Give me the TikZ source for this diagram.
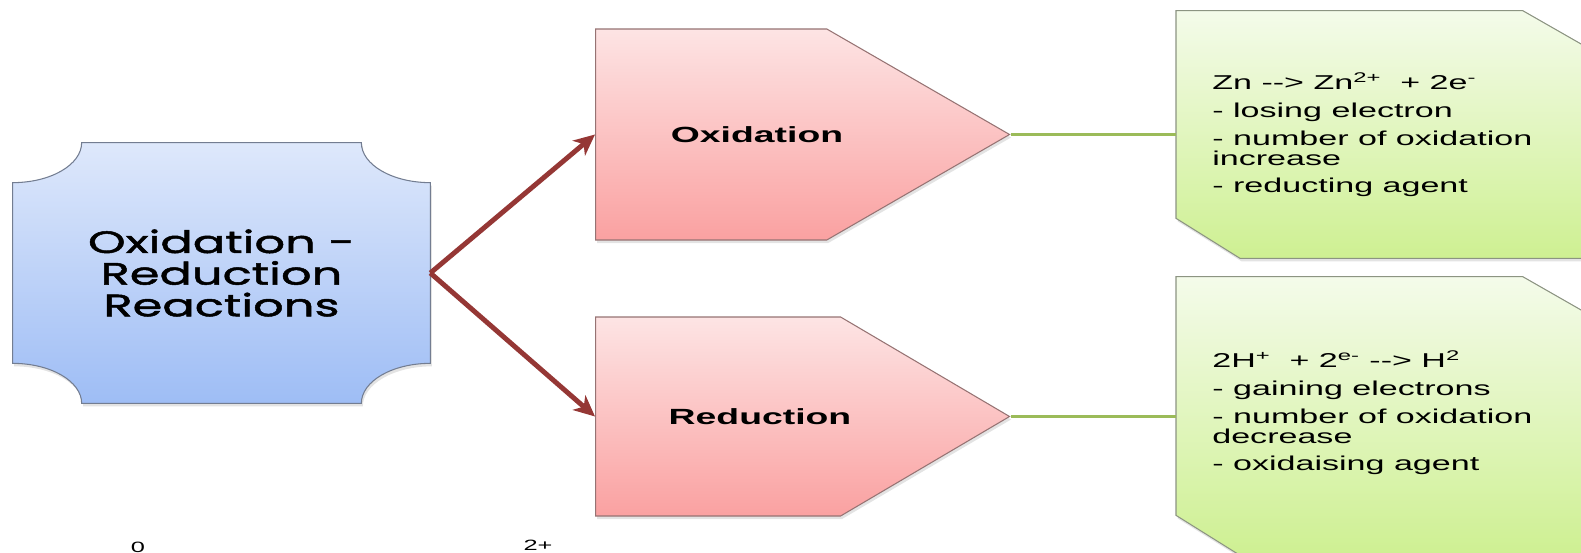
\documentclass[tikz,border=0pt]{standalone}
\usepackage{fontspec}
\setmainfont{Liberation Sans}
\newfontfamily\titlefont[FakeStretch=1.55, FakeBold=1.6]{Poppins}
\newfontfamily\notefont[FakeStretch=1.7]{Liberation Sans}
\usepackage{xcolor}
\usepackage{tikz}
\usetikzlibrary{positioning, shapes.symbols, arrows.meta, backgrounds, shadows}
\definecolor{plaqueA}{RGB}{222,232,251}
\definecolor{plaqueB}{RGB}{158,189,245}
\definecolor{plaqueedge}{RGB}{115,125,145}
\definecolor{pinkA}{RGB}{253,228,228}
\definecolor{pinkB}{RGB}{250,161,161}
\definecolor{pinkedge}{RGB}{150,115,115}
\definecolor{limeA}{RGB}{244,251,234}
\definecolor{limeB}{RGB}{206,240,146}
\definecolor{limeedge}{RGB}{140,148,130}
\definecolor{arrowred}{RGB}{149,55,53}
\definecolor{linkgreen}{RGB}{155,187,89}
\tikzstyle{arrow} = [line width=2.8pt, arrowred, -{Stealth[length=12pt, width=11pt, inset=3.5pt]}]

\begin{document}
\begin{tikzpicture}[
    soft shadow/.style={drop shadow={opacity=0.22, shadow xshift=0.03cm, shadow yshift=-0.06cm}},
    plaque/.style={rectangle, minimum width=8.34cm, minimum height=5.2cm, inner sep=0pt, align=center, font=\titlefont\fontsize{17.6}{18}\selectfont},
    pentagon/.style={signal, signal to=east, draw=pinkedge, line width=0.6pt, top color=pinkA, bottom color=pinkB, soft shadow, minimum width=8.28cm, inner sep=0pt, anchor=west},
    pentlabel/.style={font=\notefont\bfseries\fontsize{12.5}{15}\selectfont},
    notebox/.style={rectangle, minimum width=8.32cm, inner sep=0pt, anchor=west},
    snipfill/.style={draw=limeedge, line width=0.6pt, top color=limeA, bottom color=limeB, soft shadow},
    notetext/.style={anchor=north west, inner sep=0pt, align=left, font=\notefont\fontsize{11.4}{11.4}\selectfont},
    link/.style={line width=1.7pt, linkgreen},
    charge/.style={font=\notefont\fontsize{8.5}{8.5}\selectfont}
]
    \useasboundingbox (0,0) rectangle (31.62,-11.06);

    % Left side - main topic
    \node[plaque] (redox) at (4.43,-5.46) {Oxidation -\\Reduction\\Reactions};
    \begin{scope}[on background layer]
        \draw[draw=plaqueedge, line width=0.6pt, top color=plaqueA, bottom color=plaqueB, soft shadow]
            ([xshift=1.38cm]redox.north west) -- ([xshift=-1.38cm]redox.north east)
            arc[start angle=180, end angle=270, x radius=1.38cm, y radius=0.8cm]
            -- ([yshift=0.8cm]redox.south east)
            arc[start angle=90, end angle=180, x radius=1.38cm, y radius=0.8cm]
            -- ([xshift=1.38cm]redox.south west)
            arc[start angle=0, end angle=90, x radius=1.38cm, y radius=0.8cm]
            -- ([yshift=-0.8cm]redox.north west)
            arc[start angle=270, end angle=360, x radius=1.38cm, y radius=0.8cm]
            -- cycle;
    \end{scope}

    % Middle - the two half reactions
    \node[pentagon, signal pointer angle=60, minimum height=4.22cm] (oxid) at (11.9,-2.69) {};
    \node[pentagon, signal pointer angle=61, minimum height=3.98cm] (reduc) at (11.9,-8.33) {};
    \node[pentlabel] (oxidtext) at (15.14,-2.70) {Oxidation};
    \node[pentlabel] (reductext) at (15.2,-8.34) {Reduction};

    \draw[arrow] (redox.east) -- (oxid.west);
    \draw[arrow] (redox.east) -- (reduc.west);

    % Right side - notes with two snipped corners
    \node[notebox, minimum height=4.94cm] (oxnote) at (23.52,-2.69) {};
    \node[notebox, minimum height=5.56cm] (rednote) at (23.52,-8.32) {};
    \begin{scope}[on background layer]
        \draw[snipfill] (oxnote.north west) -- ([xshift=-1.4cm]oxnote.north east)
            -- ([yshift=-0.8cm]oxnote.north east) -- (oxnote.south east)
            -- ([xshift=1.28cm]oxnote.south west) -- ([yshift=0.8cm]oxnote.south west) -- cycle;
        \draw[snipfill] (rednote.north west) -- ([xshift=-1.4cm]rednote.north east)
            -- ([yshift=-0.8cm]rednote.north east) -- (rednote.south east)
            -- ([xshift=1.28cm]rednote.south west) -- ([yshift=0.8cm]rednote.south west) -- cycle;
    \end{scope}

    \draw[link] (oxid.east) -- (oxnote.west);
    \draw[link] (reduc.east) -- (reduc.east -| rednote.west);

    \node[notetext] (oxlist) at (24.24,-1.44) {%
        Zn -{}-> Zn\textsuperscript{2+}\ \ + 2e\textsuperscript{-}\\[4.5pt]
        - losing electron\\[4.5pt]
        - number of oxidation\\
        increase\\[4.5pt]
        - reducting agent};
    \node[notetext] (redlist) at (24.24,-7.0) {%
        2H\textsuperscript{+}\ \ + 2\textsuperscript{e-} -{}-> H\textsuperscript{2}\\[4.5pt]
        - gaining electrons\\[4.5pt]
        - number of oxidation\\
        decrease\\[4.5pt]
        - oxidaising agent};

    % stray charges at the bottom
    \node[charge] (zero) at (2.76,-10.95) {0};
    \node[charge] (twoplus) at (10.76,-10.9) {2+};
\end{tikzpicture}
\end{document}
